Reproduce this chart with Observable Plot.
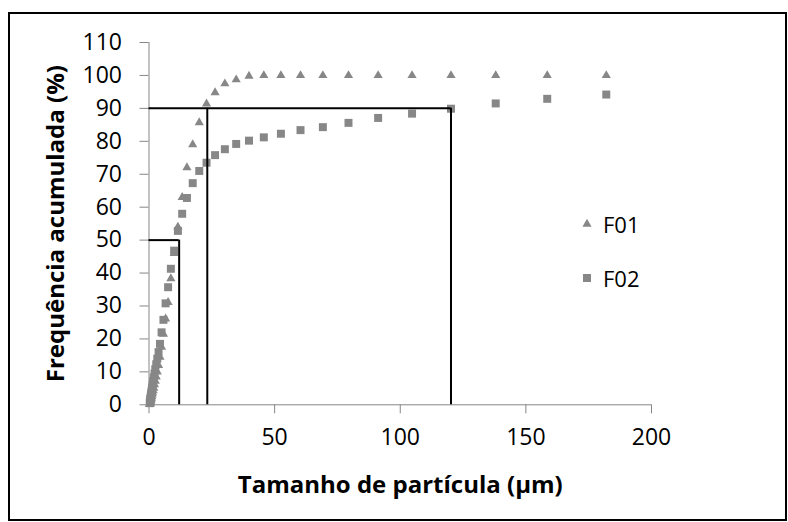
<!DOCTYPE html>
<html>
<head>
<meta charset="utf-8">
<script src="https://cdn.jsdelivr.net/npm/d3@7"></script>
<script src="https://cdn.jsdelivr.net/npm/@observablehq/plot@0.6"></script>
<style>
  html, body { margin: 0; padding: 0; background: #fff; }
  #wrap { position: relative; width: 788px; height: 522px; font-family: "Open Sans", Lato, sans-serif; }
  #border { position: absolute; left: 8px; top: 12px; width: 775px; height: 505px; border: 2px solid #000; pointer-events: none; }
  #legend { position: absolute; left: 580px; top: 211px; font-size: 22px; color: #000; line-height: 1; }
  #legend .row { display: flex; align-items: center; height: 26px; }
  #legend .row + .row { margin-top: 28px; }
  #legend svg { width: 14px; height: 14px; margin-right: 9px; }
</style>
</head>
<body>
<div id="wrap">
  <div id="chart"></div>
  <div id="border"></div>
  <div id="legend"></div>
</div>
<script>
// Particle size bins (µm) and cumulative frequency (%)
const sizes = [0.32, 0.36, 0.42, 0.48, 0.55, 0.63, 0.72, 0.83, 0.96, 1.1, 1.26, 1.45, 1.66, 1.9, 2.19, 2.5, 2.88, 3.3, 3.8, 4.37, 5.0, 5.75, 6.6, 7.6, 8.7, 10.0, 11.5, 13.2, 15.1, 17.4, 20.0, 22.9, 26.3, 30.2, 34.7, 39.8, 45.7, 52.5, 60.3, 69.2, 79.4, 91.2, 104.7, 120.2, 138.0, 158.5, 182.0];
const pctF01 = [0.1, 0.2, 0.35, 0.5, 0.7, 0.95, 1.25, 1.6, 2.0, 2.5, 3.0, 3.6, 4.3, 5.1, 6.1, 7.2, 8.5, 10.0, 12.0, 14.5, 17.5, 21.5, 26.1, 31.1, 38.3, 46.0, 54.0, 63.0, 72.0, 79.0, 85.7, 91.4, 94.8, 97.5, 98.7, 99.8, 100, 100, 100, 100, 100, 100, 100, 100, 100, 100, 100];
const pctF02 = [0.5, 0.7, 1.0, 1.3, 1.7, 2.1, 2.6, 3.2, 3.8, 4.5, 5.3, 6.2, 7.2, 8.3, 9.5, 10.8, 12.3, 14.0, 16.0, 18.5, 22.0, 25.8, 30.8, 35.7, 41.3, 46.8, 52.8, 58.0, 62.8, 67.3, 71.0, 73.5, 75.8, 77.6, 79.2, 80.2, 81.2, 82.3, 83.4, 84.3, 85.6, 87.1, 88.4, 89.9, 91.5, 92.9, 94.2];
const seriesNames = ["F01", "F02"];
const xTicks = [0, 50, 100, 150, 200];
const yTicks = [0, 10, 20, 30, 40, 50, 60, 70, 80, 90, 100, 110];
// Reference lines (D50, D90 markers)
const vLineX = [12, 23.2, 120.2];
const vLineTop = [50, 90, 90];
const hLineY = [50, 90];
const hLineEnd = [12, 120.2];

const xTitle = "Tamanho de partícula (µm)";
const yTitle = "Frequência acumulada (%)";

const f01 = sizes.map((s, i) => ({size: s, pct: pctF01[i]}));
const f02 = sizes.map((s, i) => ({size: s, pct: pctF02[i]}));
const vLines = vLineX.map((x, i) => ({x, top: vLineTop[i]}));
const hLines = hLineY.map((y, i) => ({y, end: hLineEnd[i]}));

const gray = "#878787";
const axisGray = "#868686";
const font = "'Open Sans', Lato, sans-serif";

const plot = Plot.plot({
  width: 788,
  height: 522,
  marginLeft: 148.5,
  marginRight: 137,
  marginTop: 42,
  marginBottom: 117.7,
  style: {fontFamily: font, background: "transparent", overflow: "visible"},
  x: {domain: [0, 200]},
  y: {domain: [0, 110]},
  marks: [
    Plot.ruleY([0], {stroke: axisGray, strokeWidth: 1}),
    Plot.ruleX([0], {stroke: axisGray, strokeWidth: 1}),
    Plot.axisX({ticks: xTicks, tickSize: 9, tickPadding: 15, stroke: axisGray, fill: "#000", fontSize: 23, label: null, tickFormat: d => String(d)}),
    Plot.axisY({ticks: yTicks, tickSize: 9, tickPadding: 18, stroke: axisGray, fill: "#000", fontSize: 23, label: null, tickFormat: d => String(d)}),
    Plot.dot(f01, {x: "size", y: "pct", symbol: "triangle", r: 3.4, fill: gray, stroke: "none"}),
    Plot.dot(f02, {x: "size", y: "pct", symbol: "square", r: 4.5, fill: gray, stroke: "none"}),
    Plot.ruleX(vLines, {x: "x", y1: 0, y2: "top", stroke: "#000", strokeWidth: 2}),
    Plot.ruleY(hLines, {y: "y", x1: 0, x2: "end", stroke: "#000", strokeWidth: 2}),
    Plot.text([xTitle], {frameAnchor: "bottom", dy: 88, fontSize: 24, fontWeight: "bold", fill: "#000", textAnchor: "middle"}),
    Plot.text([yTitle], {frameAnchor: "left", dx: -93, rotate: -90, fontSize: 24, fontWeight: "bold", fill: "#000", textAnchor: "middle"})
  ]
});
document.getElementById("chart").appendChild(plot);

// Legend
const legend = document.getElementById("legend");
const shapes = {
  F01: `<svg viewBox="-7 -7 14 14"><path d="${d3.symbol(d3.symbolTriangle, Math.PI * 3.4 * 3.4)()}" fill="${gray}"/></svg>`,
  F02: `<svg viewBox="-7 -7 14 14"><path d="${d3.symbol(d3.symbolSquare, Math.PI * 4.5 * 4.5)()}" fill="${gray}"/></svg>`
};
seriesNames.forEach(name => {
  const row = document.createElement("div");
  row.className = "row";
  row.innerHTML = shapes[name] + `<span>${name}</span>`;
  legend.appendChild(row);
});
</script>
</body>
</html>
